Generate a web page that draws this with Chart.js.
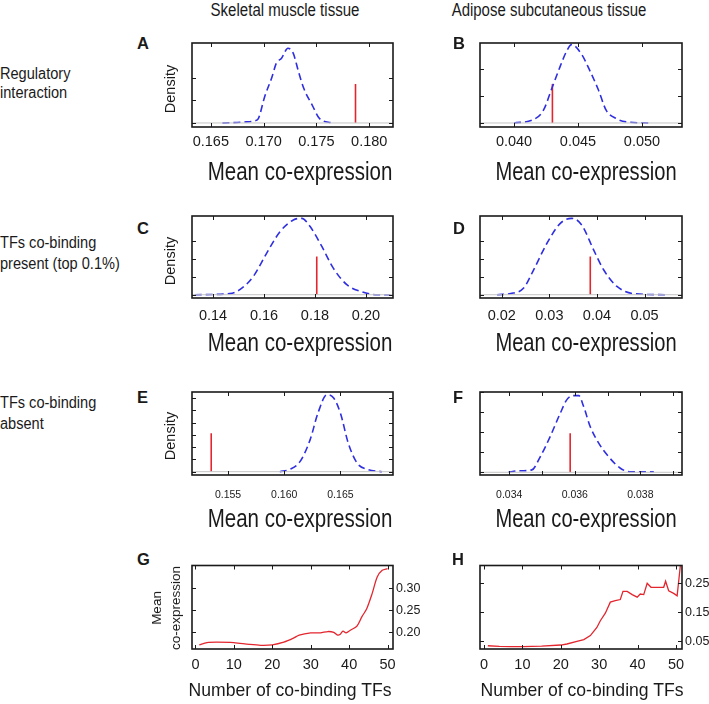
<!DOCTYPE html>
<html>
<head>
<meta charset="utf-8">
<script src="https://cdn.jsdelivr.net/npm/chart.js@4.4.1/dist/chart.umd.min.js"></script>
<style>
  body { margin: 0; background: #fff; }
  #fig { position: relative; width: 709px; height: 704px; overflow: hidden;
         font-family: "Liberation Sans", Arial, sans-serif; color: #1a1a1a; }
  #fig canvas { position: absolute; }
  .t { position: absolute; white-space: nowrap; line-height: 1; }
</style>
</head>
<body>
<div id="fig"></div>
<script>
// ---- data ----
// A: regulatory interaction, skeletal muscle
const xA = [0.1661, 0.1681, 0.1692, 0.1695, 0.1701, 0.1708, 0.1712, 0.1717, 0.1723, 0.1728, 0.1733, 0.1738, 0.1746, 0.1753, 0.1765];
const yA = [0, 0.04, 0.10, 0.19, 1.16, 2.04, 2.64, 2.86, 3.30, 3.08, 2.27, 1.53, 0.79, 0.19, 0];
const redA = [0.1787, 1.72];
const ticksA = [0.165, 0.170, 0.175, 0.180];
const labelsA = ['0.165', '0.170', '0.175', '0.180'];

// B: regulatory interaction, adipose
const xB = [0.0400, 0.0415, 0.0423, 0.0430, 0.0436, 0.0441, 0.0445, 0.0453, 0.0459, 0.0466, 0.0472, 0.0480, 0.0488, 0.0505];
const yB = [0, 0.12, 0.47, 1.33, 2.07, 2.63, 2.88, 2.51, 1.95, 1.21, 0.47, 0.16, 0.04, 0];
const redB = [0.0430, 1.43];
const ticksB = [0.040, 0.045, 0.050];
const labelsB = ['0.040', '0.045', '0.050'];

// C: co-binding present, skeletal muscle
const xC = [0.1328, 0.1466, 0.1505, 0.1558, 0.1610, 0.1663, 0.1715, 0.1748, 0.1781, 0.1827, 0.1872, 0.1925, 0.1978, 0.2043, 0.2096];
const yC = [0, 0.06, 0.28, 1.02, 2.31, 3.52, 4.17, 4.26, 3.80, 2.69, 1.48, 0.56, 0.19, 0, 0];
const redC = [0.1807, 2.13];
const ticksC = [0.14, 0.16, 0.18, 0.20];
const labelsC = ['0.14', '0.16', '0.18', '0.20'];

// D: co-binding present, adipose
const xD = [0.0190, 0.0224, 0.0246, 0.0267, 0.0295, 0.0323, 0.0347, 0.0368, 0.0393, 0.0414, 0.0442, 0.0477, 0.0544];
const yD = [0, 0.09, 0.37, 1.39, 2.87, 3.98, 4.26, 3.89, 2.50, 1.39, 0.46, 0.06, 0];
const redD = [0.0386, 2.13];
const ticksD = [0.02, 0.03, 0.04, 0.05];
const labelsD = ['0.02', '0.03', '0.04', '0.05'];

// E: co-binding absent, skeletal muscle
const xE = [0.1596, 0.1605, 0.1614, 0.1623, 0.1630, 0.1638, 0.1644, 0.1650, 0.1657, 0.1665, 0.1674, 0.1687];
const yE = [0, 0.19, 0.82, 2.59, 4.77, 6.27, 6.00, 4.77, 2.32, 0.68, 0.19, 0];
const redE = [0.1535, 3.13];
const ticksE = [0.155, 0.160, 0.165];
const labelsE = ['0.155', '0.160', '0.165'];

// F: co-binding absent, adipose
const xF = [0.03398, 0.03424, 0.03469, 0.03495, 0.03525, 0.03556, 0.03576, 0.03596, 0.03612, 0.03627, 0.03647, 0.03673, 0.03703, 0.03739, 0.03769, 0.03841];
const yF = [0, 0.07, 0.12, 0.78, 1.78, 2.95, 3.62, 3.82, 3.82, 3.28, 2.28, 1.45, 0.78, 0.20, 0.03, 0.03];
const redF = [0.03586, 1.95];
const ticksF = [0.034, 0.035, 0.036, 0.037, 0.038, 0.039];
const labelsF = ['0.034', '', '0.036', '', '0.038', ''];

// G, H: mean co-expression vs number of co-binding TFs
const xG = [1, 3, 5.5, 10, 14, 17, 20, 23, 25.5, 27, 30, 32.5, 34.5, 36, 37, 37.7, 38.4, 39.2, 40.3, 42, 43.3, 44.6, 46, 47.3, 48.6, 50];
const yG = [0.172, 0.177, 0.178, 0.177, 0.173, 0.171, 0.172, 0.178, 0.187, 0.194, 0.199, 0.199, 0.202, 0.200, 0.194, 0.196, 0.203, 0.199, 0.205, 0.214, 0.235, 0.254, 0.288, 0.325, 0.340, 0.344];
const xH = [1, 4, 7, 10, 15, 20, 21.6, 24.2, 26, 27.7, 29.4, 30.3, 31.6, 32.9, 34.2, 35.5, 36.2, 37.3, 38.6, 39.9, 40.7, 41.6, 42.5, 43.5, 45.1, 46.8, 47.3, 48.1, 49.4, 50.3, 51.3];
const yH = [0.035, 0.033, 0.032, 0.032, 0.034, 0.0375, 0.041, 0.050, 0.056, 0.070, 0.098, 0.121, 0.147, 0.185, 0.190, 0.194, 0.222, 0.222, 0.211, 0.202, 0.213, 0.211, 0.250, 0.236, 0.236, 0.236, 0.257, 0.224, 0.215, 0.207, 0.330];
const ticksTFs = [0, 10, 20, 30, 40, 50];
const labelsTFs = ['0', '10', '20', '30', '40', '50'];
const ticksGy = [0.20, 0.25, 0.30];
const labelsGy = ['0.20', '0.25', '0.30'];
const ticksHy = [0.05, 0.15, 0.25];
const labelsHy = ['0.05', '0.15', '0.25'];

// ---- layout ----
const cols = [{ left: 192, right: 393 }, { left: 480, right: 682 }];
const rows = [{ top: 43, bottom: 127 }, { top: 216, bottom: 298 }, { top: 392, bottom: 475 }, { top: 565, bottom: 649 }];
const fig = document.getElementById('fig');

const density = [
  { col: 0, row: 0, x: xA, y: yA, red: redA, xt: ticksA, xl: labelsA, yt: [0, 1, 2], xr: [0.16322, 0.18225], yr: [-0.178, 3.53], fs: 14.5, pad: 6.3 },
  { col: 1, row: 0, x: xB, y: yB, red: redB, xt: ticksB, xl: labelsB, yt: [0, 1, 2], xr: [0.03734, 0.05313], yr: [-0.148, 2.94], fs: 14.5, pad: 6.3 },
  { col: 0, row: 1, x: xC, y: yC, red: redC, xt: ticksC, xl: labelsC, yt: [0, 1, 2, 3], xr: [0.13173, 0.21063], yr: [-0.183, 4.39], fs: 14.5, pad: 9.7 },
  { col: 1, row: 1, x: xD, y: yD, red: redD, xt: ticksD, xl: labelsD, yt: [0, 1, 2, 3], xr: [0.01543, 0.05787], yr: [-0.183, 4.39], fs: 14.5, pad: 9.7 },
  { col: 0, row: 2, x: xE, y: yE, red: redE, xt: ticksE, xl: labelsE, yt: [0, 1, 2, 3, 4, 5, 6], xr: [0.15179, 0.16968], yr: [-0.27, 6.49], fs: 10.5, pad: 14.2 },
  { col: 1, row: 2, x: xF, y: yF, red: redF, xt: ticksF, xl: labelsF, yt: [0, 1, 2, 3, 4], xr: [0.03311, 0.03927], yr: [-0.135, 4.0], fs: 10.5, pad: 14.2 },
];

const pts = (xs, ys) => xs.map((x, i) => ({ x, y: ys[i] }));

// frame and inward tick marks, matlab style
const frameTicks = {
  id: 'frameTicks',
  afterDatasetsDraw(chart, args, opts) {
    const { ctx, chartArea: a, scales } = chart;
    const len = 4;
    ctx.save();
    ctx.strokeStyle = '#1a1a1a';
    ctx.lineWidth = 1;
    ctx.beginPath();
    opts.xTicks.forEach(v => {
      const px = Math.round(scales.x.getPixelForValue(v)) + 0.5;
      ctx.moveTo(px, a.bottom); ctx.lineTo(px, a.bottom - len);
      ctx.moveTo(px, a.top); ctx.lineTo(px, a.top + len);
    });
    opts.yTicks.forEach(v => {
      const py = Math.round(scales.y.getPixelForValue(v)) + 0.5;
      ctx.moveTo(a.left, py); ctx.lineTo(a.left + len, py);
      ctx.moveTo(a.right, py); ctx.lineTo(a.right - len, py);
    });
    ctx.stroke();
    ctx.lineWidth = 1.6;
    ctx.strokeRect(a.left, a.top, a.right - a.left, a.bottom - a.top);
    ctx.restore();
  }
};

function makeCanvas(col, row, rightW) {
  const c = cols[col], r = rows[row];
  const cv = document.createElement('canvas');
  cv.width = 30 + (c.right - c.left) + rightW;
  cv.height = 10 + (r.bottom - r.top) + 40;
  cv.style.left = (c.left - 30) + 'px';
  cv.style.top = (r.top - 10) + 'px';
  fig.appendChild(cv);
  return cv;
}

function xAxis(range, xt, xl, fs, pad) {
  return {
    type: 'linear', min: range[0], max: range[1],
    afterBuildTicks: s => { s.ticks = xt.map(v => ({ value: v })); },
    afterFit: s => { s.height = 40; },
    grid: { display: false, drawTicks: false },
    border: { display: false },
    ticks: {
      autoSkip: false, maxRotation: 0, padding: pad, color: '#1a1a1a',
      font: { family: 'Liberation Sans', size: fs },
      callback: (v, i) => xl[i]
    }
  };
}

density.forEach(p => {
  const cv = makeCanvas(p.col, p.row, 30);
  new Chart(cv, {
    type: 'line',
    data: {
      datasets: [
        { data: [{ x: p.xr[0], y: 0 }, { x: p.xr[1], y: 0 }], borderColor: '#c4c4c4', borderWidth: 1 },
        { data: pts(p.x, p.y), borderColor: '#2f2fe0', borderWidth: 1.6, borderDash: [7, 4],
          tension: 0.4, cubicInterpolationMode: 'monotone' },
        { data: [{ x: p.red[0], y: 0 }, { x: p.red[0], y: p.red[1] }], borderColor: '#e3262e', borderWidth: 1.6 }
      ]
    },
    options: {
      responsive: false, animation: false,
      layout: { padding: { left: 30, top: 10, right: 30, bottom: 0 } },
      elements: { point: { radius: 0 } },
      plugins: { legend: { display: false }, tooltip: { enabled: false },
                 frameTicks: { xTicks: p.xt, yTicks: p.yt } },
      scales: {
        x: xAxis(p.xr, p.xt, p.xl, p.fs, p.pad),
        y: { display: false, min: p.yr[0], max: p.yr[1] }
      }
    },
    plugins: [frameTicks]
  });
});

const trend = [
  { col: 0, x: xG, y: yG, yt: ticksGy, yl: labelsGy, xr: [-0.89, 51.41], yr: [0.1626, 0.3509], tension: 0.3 },
  { col: 1, x: xH, y: yH, yt: ticksHy, yl: labelsHy, xr: [-1.04, 51.57], yr: [0.0238, 0.311], tension: 0 },
];

trend.forEach(p => {
  const cv = makeCanvas(p.col, 3, 44);
  new Chart(cv, {
    type: 'line',
    data: {
      datasets: [
        { data: pts(p.x, p.y), borderColor: '#e3262e', borderWidth: 1.3, tension: p.tension }
      ]
    },
    options: {
      responsive: false, animation: false,
      layout: { padding: { left: 30, top: 10, right: 0, bottom: 0 } },
      elements: { point: { radius: 0 } },
      plugins: { legend: { display: false }, tooltip: { enabled: false },
                 frameTicks: { xTicks: ticksTFs, yTicks: p.yt } },
      scales: {
        x: xAxis(p.xr, ticksTFs, labelsTFs, 14.5, 7.3),
        y: {
          position: 'right', min: p.yr[0], max: p.yr[1],
          afterBuildTicks: s => { s.ticks = p.yt.map(v => ({ value: v })); },
          afterFit: s => { s.width = 44; },
          grid: { display: false, drawTicks: false },
          border: { display: false },
          ticks: { autoSkip: false, padding: 3, color: '#1a1a1a',
                   font: { family: 'Liberation Sans', size: 12.5 },
                   callback: (v, i) => p.yl[i] }
        }
      }
    },
    plugins: [frameTicks]
  });
});

// ---- text ----
function addText(txt, x, base, size, o = {}) {
  const d = document.createElement('div');
  d.className = 't';
  d.innerHTML = txt;
  d.style.fontSize = size + 'px';
  d.style.left = x + 'px';
  d.style.top = (base - 0.8465 * size) + 'px';
  if (o.bold) d.style.fontWeight = 'bold';
  const sx = o.sx || 1;
  if (o.left) { d.style.transformOrigin = '0 0'; d.style.transform = `scaleX(${sx})`; }
  else d.style.transform = `translateX(-50%) scaleX(${sx})`;
  fig.appendChild(d);
}
function addVText(html, cx, cy, size, lh) {
  const d = document.createElement('div');
  d.className = 't';
  d.innerHTML = html;
  d.style.fontSize = size + 'px';
  d.style.lineHeight = lh + 'px';
  d.style.textAlign = 'center';
  d.style.left = cx + 'px';
  d.style.top = cy + 'px';
  d.style.transform = 'translate(-50%, -50%) rotate(-90deg)';
  fig.appendChild(d);
}

addText('Skeletal muscle tissue', 284.5, 16.7, 17.5, { sx: 0.86 });
addText('Adipose subcutaneous tissue', 549, 16.7, 17.5, { sx: 0.855 });

addText('Regulatory', 0, 80, 16, { left: true, sx: 0.91 });
addText('interaction', 0, 99, 16, { left: true, sx: 0.91 });
addText('TFs co-binding', 0, 249, 16, { left: true, sx: 0.91 });
addText('present (top 0.1%)', 0, 270, 16, { left: true, sx: 0.91 });
addText('TFs co-binding', 0, 409, 16, { left: true, sx: 0.91 });
addText('absent', 0, 430, 16, { left: true, sx: 0.91 });

[['A', 137, 48.5], ['B', 453, 48.5], ['C', 137, 233.5], ['D', 453, 233.5],
 ['E', 137, 403], ['F', 453, 403], ['G', 137, 565], ['H', 452, 565]]
  .forEach(([l, x, b]) => addText(l, x, b, 16.5, { bold: true, left: true }));

[89, 261, 436].forEach(cy => addVText('Density', 170, cy, 14.5, 16));
[180, 351.5, 527].forEach(b => {
  addText('Mean co-expression', 299.5, b, 25, { sx: 0.82 });
  addText('Mean co-expression', 586, b, 25, { sx: 0.805 });
});
addVText('Mean<br>co-expression', 165.5, 608, 13.5, 19);
addText('Number of co-binding TFs', 290, 696.7, 18.5, { sx: 0.95 });
addText('Number of co-binding TFs', 581.5, 696.7, 18.5, { sx: 0.95 });
</script>
</body>
</html>
